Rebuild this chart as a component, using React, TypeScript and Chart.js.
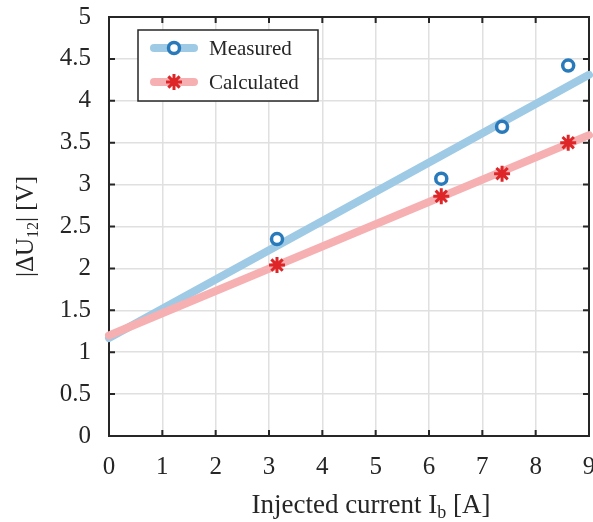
import React, { useEffect, useRef } from "react";
import { Chart, registerables } from "chart.js";
Chart.register(...registerables);

const FONT = '"Liberation Serif", "Times New Roman", serif';
const INK = "#262626";

// Data
const currentX = [3.15, 6.23, 7.37, 8.61];
const measuredY = [2.35, 3.07, 3.69, 4.42];
const calculatedY = [2.04, 2.86, 3.13, 3.5];
const fitX = [0, 9];
const measuredFitY = [1.17, 4.31];
const calculatedFitY = [1.2, 3.59];
const seriesLabels = ["Measured", "Calculated"];

const BLUE_LINE = "rgb(158,202,229)";
const BLUE_MARK = "rgb(40,122,186)";
const PINK_LINE = "rgb(246,176,178)";
const RED_MARK = "rgb(222,38,40)";

type Part = { t: string; sub?: boolean };

function partsWidth(ctx: CanvasRenderingContext2D, parts: Part[], size: number, subSize: number) {
  let w = 0;
  for (const p of parts) {
    ctx.font = `${p.sub ? subSize : size}px ${FONT}`;
    w += ctx.measureText(p.t).width;
  }
  return w;
}

function drawParts(ctx: CanvasRenderingContext2D, parts: Part[], x: number, y: number, size: number, subSize: number) {
  ctx.textAlign = "left";
  ctx.textBaseline = "alphabetic";
  let cx = x;
  for (const p of parts) {
    ctx.font = `${p.sub ? subSize : size}px ${FONT}`;
    ctx.fillText(p.t, cx, p.sub ? y + size * 0.18 : y);
    cx += ctx.measureText(p.t).width;
  }
}

const framePlugin = {
  id: "frame",
  beforeDatasetsDraw(chart: any) {
    const { ctx, chartArea: a, scales } = chart;
    ctx.save();
    ctx.strokeStyle = INK;
    ctx.lineWidth = 2;
    ctx.strokeRect(a.left, a.top, a.right - a.left, a.bottom - a.top);
    const tl = 6;
    ctx.beginPath();
    for (const v of scales.x.ticks.map((t: any) => t.value)) {
      const px = scales.x.getPixelForValue(v);
      ctx.moveTo(px, a.bottom);
      ctx.lineTo(px, a.bottom - tl);
      ctx.moveTo(px, a.top);
      ctx.lineTo(px, a.top + tl);
    }
    for (const v of scales.y.ticks.map((t: any) => t.value)) {
      const py = scales.y.getPixelForValue(v);
      ctx.moveTo(a.left, py);
      ctx.lineTo(a.left + tl, py);
      ctx.moveTo(a.right, py);
      ctx.lineTo(a.right - tl, py);
    }
    ctx.stroke();
    ctx.restore();
  },
  afterDraw(chart: any) {
    const { ctx, chartArea: a } = chart;
    ctx.save();
    ctx.fillStyle = INK;
    // x title
    const xParts: Part[] = [{ t: "Injected current I" }, { t: "b", sub: true }, { t: " [A]" }];
    const xs = 27, xsub = 18;
    const xw = partsWidth(ctx, xParts, xs, xsub);
    const xc = (a.left + a.right) / 2 + 22;
    drawParts(ctx, xParts, xc - xw / 2, a.bottom + 77, xs, xsub);
    // y title
    const yParts: Part[] = [{ t: "|ΔU" }, { t: "12", sub: true }, { t: "| [V]" }];
    const ys = 25, ysub = 16;
    const yw = partsWidth(ctx, yParts, ys, ysub);
    ctx.translate(33, (a.top + a.bottom) / 2);
    ctx.rotate(-Math.PI / 2);
    drawParts(ctx, yParts, -yw / 2, 0, ys, ysub);
    ctx.restore();

    // legend
    ctx.save();
    const lx = a.left + 29, ly = a.top + 13, lw = 180, lh = 71;
    ctx.fillStyle = "#ffffff";
    ctx.fillRect(lx, ly, lw, lh);
    ctx.strokeStyle = INK;
    ctx.lineWidth = 1.5;
    ctx.strokeRect(lx, ly, lw, lh);
    const rows = [
      { line: BLUE_LINE, y: ly + 18 },
      { line: PINK_LINE, y: ly + 52 },
    ];
    rows.forEach((r, i) => {
      ctx.strokeStyle = r.line;
      ctx.lineWidth = 8;
      ctx.lineCap = "round";
      ctx.beginPath();
      ctx.moveTo(lx + 16, r.y);
      ctx.lineTo(lx + 56, r.y);
      ctx.stroke();
      const mx = lx + 36;
      if (i === 0) {
        ctx.beginPath();
        ctx.arc(mx, r.y, 5.5, 0, Math.PI * 2);
        ctx.fillStyle = "#ffffff";
        ctx.fill();
        ctx.strokeStyle = BLUE_MARK;
        ctx.lineWidth = 3.5;
        ctx.stroke();
      } else {
        ctx.strokeStyle = RED_MARK;
        ctx.lineWidth = 3;
        ctx.lineCap = "butt";
        ctx.beginPath();
        const rr = 8;
        for (let k = 0; k < 4; k++) {
          const ang = (k * Math.PI) / 4;
          ctx.moveTo(mx + rr * Math.cos(ang), r.y + rr * Math.sin(ang));
          ctx.lineTo(mx - rr * Math.cos(ang), r.y - rr * Math.sin(ang));
        }
        ctx.stroke();
      }
      ctx.fillStyle = INK;
      ctx.font = `21px ${FONT}`;
      ctx.textAlign = "left";
      ctx.textBaseline = "middle";
      ctx.fillText(seriesLabels[i], lx + 71, r.y + 1);
    });
    ctx.restore();
  },
};

function zeroPad(s: any) {
  s.paddingLeft = 0;
  s.paddingRight = 0;
  s.paddingTop = 0;
  s.paddingBottom = 0;
}

export default function App() {
  const ref = useRef<HTMLCanvasElement>(null);
  useEffect(() => {
    document.body.style.margin = "0";
    const chart = new Chart(ref.current!, {
      type: "scatter",
      data: {
        datasets: [
          {
            label: seriesLabels[0] + " points",
            data: currentX.map((x, i) => ({ x, y: measuredY[i] })),
            showLine: false,
            pointStyle: "circle",
            pointRadius: 5.5,
            pointBorderWidth: 3.5,
            pointBorderColor: BLUE_MARK,
            pointBackgroundColor: "#ffffff",
            order: 0,
          } as any,
          {
            label: seriesLabels[1] + " points",
            data: currentX.map((x, i) => ({ x, y: calculatedY[i] })),
            showLine: false,
            pointStyle: "star",
            pointRadius: 8,
            pointBorderWidth: 3,
            pointBorderColor: RED_MARK,
            pointBackgroundColor: RED_MARK,
            order: 1,
          } as any,
          {
            label: seriesLabels[1] + " fit",
            data: fitX.map((x, i) => ({ x, y: calculatedFitY[i] })),
            showLine: true,
            borderColor: PINK_LINE,
            borderWidth: 8,
            borderCapStyle: "round",
            pointRadius: 0,
            clip: false,
            order: 2,
          } as any,
          {
            label: seriesLabels[0] + " fit",
            data: fitX.map((x, i) => ({ x, y: measuredFitY[i] })),
            showLine: true,
            borderColor: BLUE_LINE,
            borderWidth: 8,
            borderCapStyle: "round",
            pointRadius: 0,
            clip: false,
            order: 3,
          } as any,
        ],
      },
      options: {
        responsive: false,
        animation: false,
        events: [],
        layout: { padding: { left: 0, top: 17, right: 0, bottom: 0 } },
        plugins: { legend: { display: false }, tooltip: { enabled: false } },
        scales: {
          x: {
            type: "linear",
            min: 0,
            max: 9,
            afterFit: (s: any) => {
              s.height = 86;
              zeroPad(s);
            },
            ticks: {
              stepSize: 1,
              color: INK,
              font: { family: FONT, size: 25 },
              padding: 16,
              callback: (v: any) => String(v),
            },
            grid: { color: "#e0e0e0", lineWidth: 1.5, drawTicks: false },
            border: { display: false },
          },
          y: {
            type: "linear",
            min: 0,
            max: 5,
            afterFit: (s: any) => {
              s.width = 109;
              zeroPad(s);
            },
            ticks: {
              stepSize: 0.5,
              color: INK,
              font: { family: FONT, size: 25 },
              padding: 18,
              callback: (v: any) => String(Math.round(v * 10) / 10),
            },
            grid: { color: "#e0e0e0", lineWidth: 1.5, drawTicks: false },
            border: { display: false },
          },
        },
      },
      plugins: [framePlugin],
    });
    return () => chart.destroy();
  }, []);
  return (
    <div style={{ width: 593, height: 522, overflow: "hidden" }}>
      <canvas ref={ref} width={600} height={522} style={{ display: "block" }} />
    </div>
  );
}
